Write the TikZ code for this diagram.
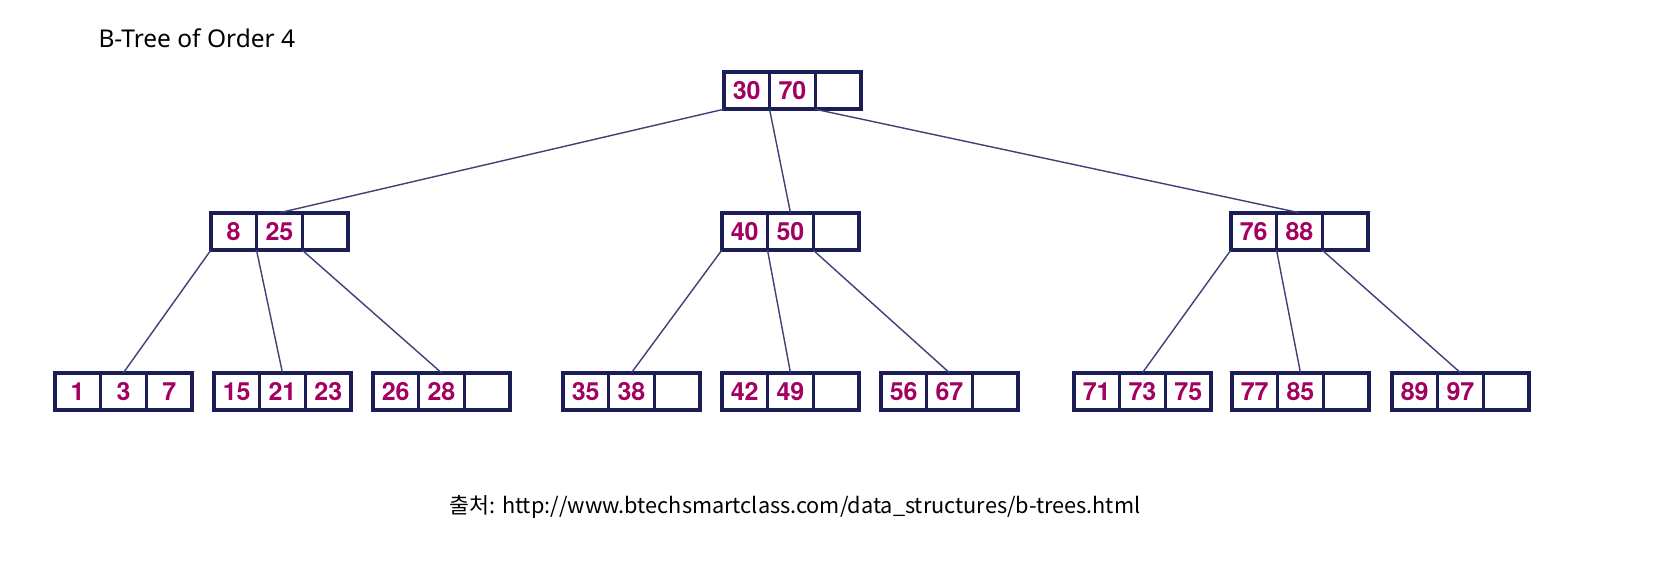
\documentclass[tikz,border=0pt]{standalone}
\usepackage{fontspec}
\setmainfont{Noto Sans}
\newfontfamily\numfont{TeX Gyre Heros}
\newfontfamily\krfont{Noto Sans CJK KR}
\definecolor{boxline}{HTML}{1B1D57}
\definecolor{keytext}{HTML}{A3005F}
\definecolor{edgeline}{HTML}{3C4275}
\tikzset{
  keycell/.style={draw=boxline, line width=3.6pt, fill=white, minimum width=45.8pt,
    minimum height=37.5pt, inner sep=0pt, outer sep=0pt, text=keytext,
    font=\numfont\fontsize{25}{25}\selectfont\bfseries},
  treeedge/.style={draw=edgeline, line width=1.4pt},
}
% \bnode{name}{left x}{top y}{k1}{k2}{k3}
\newcommand\bnode[6]{%
  \node[keycell] (#1-1) at ({#2+1.75+0.5*45.8},{#3+20.5}) {#4};
  \node[keycell] (#1-2) at ({#2+1.75+1.5*45.8},{#3+20.5}) {#5};
  \node[keycell] (#1-3) at ({#2+1.75+2.5*45.8},{#3+20.5}) {#6};
}
\begin{document}
\begin{tikzpicture}[x=1pt,y=-1pt]
\path[use as bounding box, fill=white] (0,0) rectangle (1678,582);
\node[anchor=base west, font=\fontsize{24.5}{24.5}\selectfont] (title) at (95,47) {B-Tree of Order 4};
\bnode{r}{722}{70}{30}{70}{}
\bnode{a}{209}{211}{8}{25}{}
\bnode{b}{720}{211}{40}{50}{}
\bnode{c}{1229}{211}{76}{88}{}
\bnode{l1}{53}{371}{1}{3}{7}
\bnode{l2}{212}{371}{15}{21}{23}
\bnode{l3}{371}{371}{26}{28}{}
\bnode{l4}{561}{371}{35}{38}{}
\bnode{l5}{720}{371}{42}{49}{}
\bnode{l6}{879}{371}{56}{67}{}
\bnode{l7}{1072}{371}{71}{73}{75}
\bnode{l8}{1230}{371}{77}{85}{}
\bnode{l9}{1390}{371}{89}{97}{}
\draw[treeedge] (r-1.south west) -- (a-2.north);
\draw[treeedge] (r-1.south east) -- (b-2.north);
\draw[treeedge] (r-2.south east) -- (c-2.north);
\draw[treeedge] (a-1.south west) -- (l1-2.north);
\draw[treeedge] (a-1.south east) -- (l2-2.north);
\draw[treeedge] (a-2.south east) -- (l3-2.north);
\draw[treeedge] (b-1.south west) -- (l4-2.north);
\draw[treeedge] (b-1.south east) -- (l5-2.north);
\draw[treeedge] (b-2.south east) -- (l6-2.north);
\draw[treeedge] (c-1.south west) -- (l7-2.north);
\draw[treeedge] (c-1.south east) -- (l8-2.north);
\draw[treeedge] (c-2.south east) -- (l9-2.north);
\node[font=\krfont\fontsize{21.7}{21.7}\selectfont, anchor=base] (src) at (795,513) {출처: http://www.btechsmartclass.com/data\_structures/b-trees.html};
\end{tikzpicture}
\end{document}
